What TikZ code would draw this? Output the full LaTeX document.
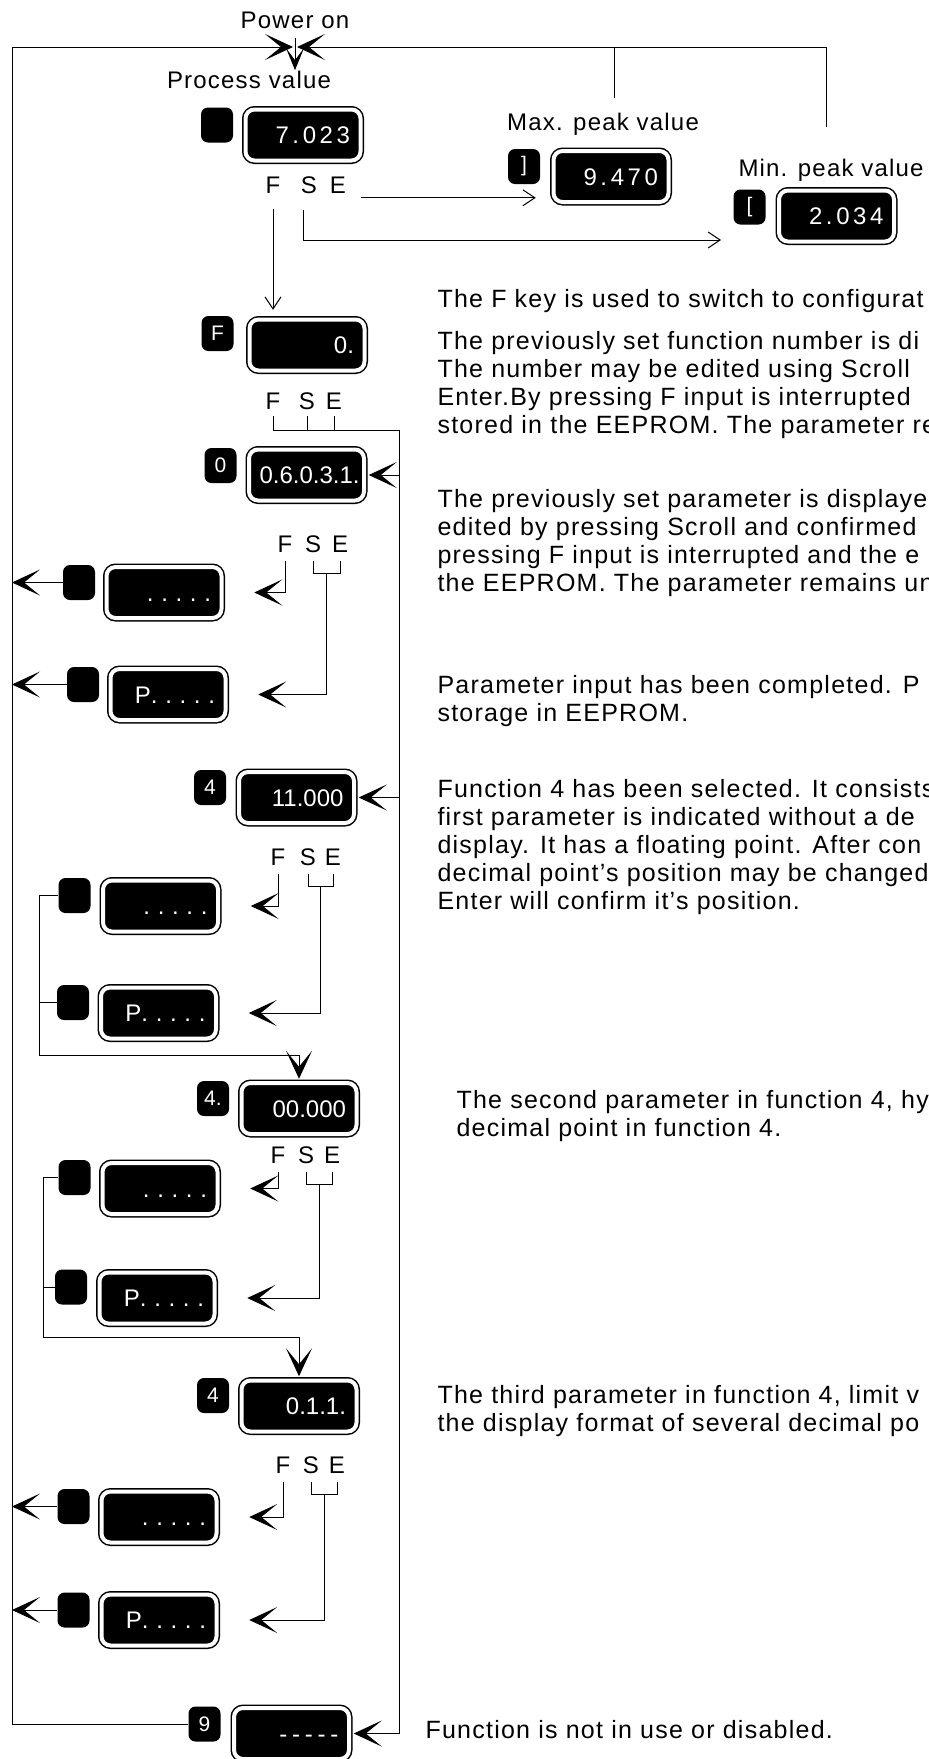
\documentclass[tikz,border=0pt]{standalone}
\usepackage{fontspec}
\setmainfont{Liberation Sans}
\newfontfamily\lblfont[LetterSpace=5]{Liberation Sans}
\newfontfamily\descfont[LetterSpace=5]{Liberation Sans}
\newfontfamily\digfont{Liberation Sans}
\newfontfamily\widedig[LetterSpace=15]{Liberation Sans}
\newfontfamily\dotdig[LetterSpace=32]{Liberation Sans}
\newfontfamily\dashdig[LetterSpace=20]{Liberation Sans}
\usetikzlibrary{arrows.meta,calc}

\begin{document}
\begin{tikzpicture}[x=1pt, y=-1pt, line width=1pt,
  disp/.style={draw, fill=black, double=white, double distance=4pt, line width=1.5pt,
    rounded corners=9pt, minimum width=115pt, minimum height=51pt, text width=94pt,
    align=right, inner sep=0pt, text=white, text height=17pt, text depth=0pt,
    font=\digfont\fontsize{24}{24}\selectfont},
  keybox/.style={fill=black, rounded corners=7pt, minimum width=32pt, minimum height=35pt,
    inner sep=0pt, text=white, font=\digfont\fontsize{21}{21}\selectfont},
  lbl/.style={inner sep=0pt, font=\lblfont\fontsize{24}{24}\selectfont},
  desc/.style={inner sep=0pt, anchor=north west, align=left,
    font=\descfont\fontsize{25}{28}\selectfont},
  bigtip/.style={-{Stealth[length=28pt, width=26pt, inset=16pt]}},
  medtip/.style={-{Stealth[length=22pt, width=18pt, inset=12pt]}},
  barb/.style={-{Straight Barb[length=12pt, width=16pt]}}]
\useasboundingbox (0,0) rectangle (929,1759);
\clip (0,0) rectangle (929,1759);

% displays
\node[disp] (d1) at (303,135) {\widedig 7.023};
\node[disp] (dmax) at (611,176.5) {\widedig 9.470};
\node[disp] (dmin) at (836.5,216) {\widedig 2.034};
\node[disp] (dF) at (307,345) {0.};
\node[disp] (dpar) at (306.5,475) {0.6.0.3.1.};
\node[disp] (dd3) at (164,592.5) {\dotdig .....};
\node[disp] (dp3) at (168,694.5) {P{\dotdig .....}};
\node[disp] (d11) at (296.5,797.5) {11.000};
\node[disp] (dd4) at (160.5,906) {\dotdig .....};
\node[disp] (dp4) at (158.5,1013) {P{\dotdig .....}};
\node[disp] (d00) at (299,1108.5) {00.000};
\node[disp] (dd5) at (160,1188.5) {\dotdig .....};
\node[disp] (dp5) at (157,1298) {P{\dotdig .....}};
\node[disp] (d011) at (299,1406) {0.1.1.};
\node[disp] (dd6) at (159,1517) {\dotdig .....};
\node[disp] (dp6) at (159,1620) {P{\dotdig .....}};
\node[disp] (d9) at (291.5,1733.5) {\dashdig -----};

% key symbols
\node[keybox] (k1) at (217,125) {};
\node[keybox] (kmax) at (524,166.5) {]};
\node[keybox] (kmin) at (749.5,207) {[};
\node[keybox] (kF) at (217.5,333.5) {F};
\node[keybox] (k0) at (220.5,465.5) {0};
\node[keybox] (kd3) at (79,582.5) {};
\node[keybox] (kp3) at (83,684.5) {};
\node[keybox] (k4) at (210,787.5) {4};
\node[keybox] (kd4) at (74.5,895.5) {};
\node[keybox] (kp4) at (73,1002.5) {};
\node[keybox] (k4p) at (213,1098.5) {4.};
\node[keybox] (kd5) at (74.5,1177.5) {};
\node[keybox] (kp5) at (71,1287) {};
\node[keybox] (k4b) at (213,1395.5) {4};
\node[keybox] (kd6) at (73.5,1506.5) {};
\node[keybox] (kp6) at (73.5,1610) {};
\node[keybox] (k9) at (204.5,1724) {9};

% F S E keys
\foreach \n/\f/\s/\e/\y in {1/273/309/338/185, 2/273/307/334/401, 3/285/313/340/544,
    4/278/308/333/857, 5/278/306/332/1155, 6/283/311/337/1465} {
  \node[lbl] (f\n) at (\f,\y) {F};
  \node[lbl] (s\n) at (\s,\y) {S};
  \node[lbl] (e\n) at (\e,\y) {E};
}

% labels
\node[lbl, anchor=base] (pon) at (295,28) {Power on};
\node[lbl, anchor=base] (pv) at (249,88) {Process value};
\node[lbl, anchor=base] (maxl) at (603,130) {Max. peak value};
\node[lbl, anchor=base west] (minl) at (738,176) {Min. peak value};

% explanations
\node[desc] (t1) at (437,289) {The F key is used to switch to configurat};
\node[desc] (t2) at (437,331) {The previously set function number is di\\
  The number may be edited using Scroll\\
  Enter.By pressing F input is interrupted\\
  stored in the EEPROM. The parameter re};
\node[desc] (t3) at (437,489) {The previously set parameter is displaye\\
  edited by pressing Scroll and confirmed\\
  pressing F input is interrupted and the e\\
  the EEPROM. The parameter remains un};
\node[desc] (t4) at (437,675) {Parameter input has been completed. P\\
  storage in EEPROM.};
\node[desc] (t5) at (437,779) {Function 4 has been selected. It consists\\
  first parameter is indicated without a de\\
  display. It has a floating point. After con\\
  decimal point’s position may be changed\\
  Enter will confirm it’s position.};
\node[desc] (t6) at (456,1090) {The second parameter in function 4, hys\\
  decimal point in function 4.};
\node[desc] (t7) at (437,1385) {The third parameter in function 4, limit v\\
  the display format of several decimal po};
\node[desc] (t8) at (425,1720) {Function is not in use or disabled.};

% connectors
\coordinate (tl) at (12,47);
\coordinate (pwr) at (295,47);
\coordinate (tr) at (826,47);
\coordinate (maxup) at (614,98);
\coordinate (minup) at (826,127);
\coordinate (bus) at (399,430);
\draw[bigtip, shorten >=2pt] (k9.west) -| (tl) -- (pwr);
\draw[bigtip, shorten >=2pt] (minup) -- (tr) -- (pwr);
\draw (maxup) -- (maxup |- tr);
\draw[medtip] ([yshift=-9pt]pon.south) -- (pwr |- pv.north);

\draw[barb, shorten >=9pt] ([yshift=-15pt]f1.south) -- (f1.south |- dF.north);
\coordinate (e1o) at ([xshift=14pt, yshift=-4pt]e1.south east);
\draw[barb, shorten >=17pt] (e1o) -- (e1o -| dmax.west);
\coordinate (s1o) at ([xshift=-6pt, yshift=-16pt]s1.south);
\coordinate (s1c) at ([xshift=-6pt, yshift=-46pt]s1.south);
\draw[barb, shorten >=12pt] (s1o) -- (s1c) -- (s1c -| kmin.west);

\foreach \l in {f2,s2,e2} \draw ([yshift=-6pt]\l.south) -- (\l.south |- bus);
\draw (f2.south |- bus) -- (bus);
\draw[bigtip, shorten >=4pt] (bus) |- (d9.east);
\draw[bigtip, shorten >=4pt] (bus |- dpar.east) -- (dpar.east);
\draw[bigtip, shorten >=4pt] (bus |- d11.east) -- (d11.east);

\foreach \n in {3,...,6} {
  \draw[bigtip, shorten >=32pt] ([yshift=-8pt]f\n.south) |- (dd\n.east);
  \draw ([yshift=-8pt]s\n.south) -- ++(0,12) -| ([yshift=-8pt]e\n.south);
  \draw[bigtip, shorten >=32pt] ($(s\n.south)!0.5!(e\n.south)+(0,20)$) |- (dp\n.east);
}

\draw[bigtip] (kd3.west) -- (kd3.west -| tl);
\draw[bigtip] (kp3.west) -- (kp3.west -| tl);
\draw[bigtip] (kd6.west) -- (kd6.west -| tl);
\draw[bigtip] (kp6.west) -- (kp6.west -| tl);

\coordinate (lp4) at (39,1055);
\draw[bigtip, shorten >=3.5pt] (kd4.west) -| (lp4) -| (d00.north);
\draw (kp4.west) -- (kp4.west -| lp4);
\coordinate (lp5) at (43,1337);
\draw[bigtip, shorten >=3.5pt] (kd5.west) -| (lp5) -| (d011.north);
\draw (kp5.west) -- (kp5.west -| lp5);
\end{tikzpicture}
\end{document}
